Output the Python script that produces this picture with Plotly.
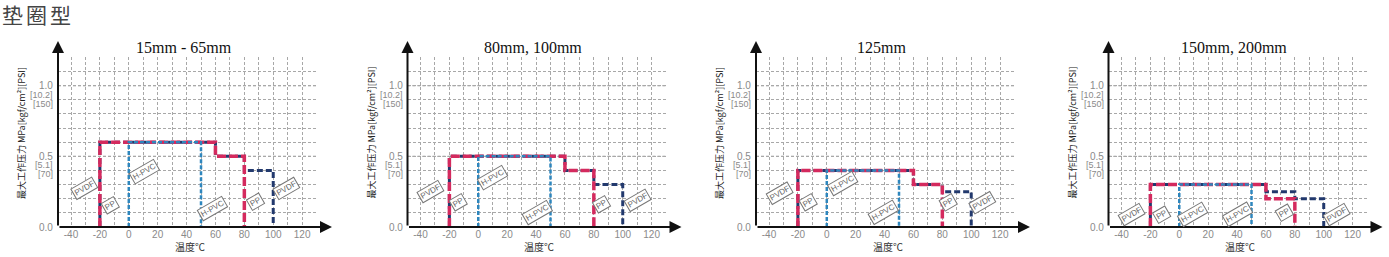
import plotly.graph_objects as go

W, H = 1389, 257

# ---------------- data ----------------
panel_titles = ["15mm - 65mm", "80mm, 100mm", "125mm", "150mm, 200mm"]

pvdf_x = [-20, -20, 60, 60, 80, 80, 100, 100]
pvdf_y = [
    [0, 0.6, 0.6, 0.5, 0.5, 0.4, 0.4, 0],
    [0, 0.5, 0.5, 0.4, 0.4, 0.3, 0.3, 0],
    [0, 0.4, 0.4, 0.3, 0.3, 0.25, 0.25, 0],
    [0, 0.3, 0.3, 0.25, 0.25, 0.2, 0.2, 0],
]
pp_x = [-20, -20, 60, 60, 80, 80]
pp_y = [
    [0, 0.6, 0.6, 0.5, 0.5, 0],
    [0, 0.5, 0.5, 0.4, 0.4, 0],
    [0, 0.4, 0.4, 0.3, 0.3, 0],
    [0, 0.3, 0.3, 0.2, 0.2, 0],
]
hpvc_x = [0, 0, 50, 50]
hpvc_y = [
    [0, 0.6, 0.6, 0],
    [0, 0.5, 0.5, 0],
    [0, 0.4, 0.4, 0],
    [0, 0.3, 0.3, 0],
]

x_grid = list(range(-40, 131, 10))
x_tick_labels = ["-40", "", "-20", "", "0", "", "20", "", "40", "", "60", "", "80", "", "100", "", "120", ""]
y_grid = [round(0.1 * i, 1) for i in range(0, 13)]
y_tick_vals = [0.0, 0.5, 1.0]
y_tick_main = ["0.0", "0.5", "1.0"]
y_tick_kgf = ["", "[5.1]", "[10.2]"]
y_tick_psi = ["", "[70]", "[150]"]

material_labels = ["PVDF", "PP", "H-PVC", "H-PVC", "PP", "PVDF"]

main_title = "垫圈型"
y_title = "最大工作压力 MPa[kgf/cm²][PSI]"
x_title = "温度℃"

# ---------------- layout helpers (positions only) ----------------
panel_left_px = [58, 407.5, 756, 1108.5]
panel_w_px = 259
plot_top_px, plot_bot_px = 57, 227
label_pos = [
    [(-31, 0.27), (-13, 0.15), (11, 0.39), (58, 0.13), (88, 0.18), (109, 0.27)],
    [(-33, 0.25), (-14, 0.17), (10, 0.35), (41, 0.10), (85, 0.16), (110, 0.19)],
    [(-33, 0.24), (-13, 0.17), (11, 0.31), (39, 0.10), (84, 0.17), (108, 0.17)],
    [(-33, 0.09), (-12, 0.09), (9, 0.09), (40, 0.09), (73, 0.10), (109, 0.09)],
]

C_PP = "#d42a5e"
C_PVDF = "#22396d"
C_HPVC = "#2e86bd"

def px2x(px):
    return px / W

def px2y(py):
    return (H - py) / H

fig = go.Figure()
annotations = []
shapes = []

ydom = [px2y(plot_bot_px), px2y(plot_top_px)]

for i in range(4):
    n = "" if i == 0 else str(i + 1)
    xa, ya = "x" + n, "y" + n
    left = panel_left_px[i]
    right = left + panel_w_px
    xdom = [px2x(left), px2x(right)]

    grid_common = dict(
        showgrid=True, gridcolor="#a8a8a8", gridwidth=1, griddash="3px,2px",
        zeroline=False, ticks="", fixedrange=True,
    )
    fig.update_layout(**{
        "xaxis" + n: dict(
            domain=xdom, range=[-49, 130.3], anchor=ya,
            tickmode="array", tickvals=x_grid, ticktext=x_tick_labels,
            tickfont=dict(family="Liberation Sans", size=10, color="#8a8a8a"),
            showline=False, **grid_common,
        ),
        "yaxis" + n: dict(
            domain=ydom, range=[0, 1.203], anchor=xa,
            tickmode="array", tickvals=y_grid, showticklabels=False,
            showline=False, **grid_common,
        ),
    })

    # darker reference lines
    for v in y_tick_vals[1:]:
        shapes.append(dict(type="line", xref=xa + " domain", yref=ya, x0=0, x1=1, y0=v, y1=v,
                           line=dict(color="#666666", width=1, dash="3px,2px"), layer="below"))

    # series
    fig.add_trace(go.Scatter(x=pvdf_x, y=pvdf_y[i], xaxis=xa, yaxis=ya, mode="lines",
                             line=dict(color=C_PVDF, width=3, dash="6px,3px"),
                             showlegend=False, hoverinfo="skip", cliponaxis=False))
    fig.add_trace(go.Scatter(x=pp_x, y=pp_y[i], xaxis=xa, yaxis=ya, mode="lines",
                             line=dict(color=C_PP, width=3.5, dash="9px,3px"),
                             showlegend=False, hoverinfo="skip", cliponaxis=False))
    fig.add_trace(go.Scatter(x=hpvc_x, y=hpvc_y[i], xaxis=xa, yaxis=ya, mode="lines",
                             line=dict(color=C_HPVC, width=2.5, dash="4px,2px"),
                             showlegend=False, hoverinfo="skip", cliponaxis=False))

    # axis arrows
    annotations.append(dict(xref="paper", yref="paper", x=px2x(right + 15), y=px2y(plot_bot_px),
                            ax=-(right + 15 - left), ay=0, text="", showarrow=True,
                            arrowhead=2, arrowsize=1.2, arrowwidth=2, arrowcolor="#111"))
    annotations.append(dict(xref="paper", yref="paper", x=px2x(left), y=px2y(41),
                            ax=0, ay=(plot_bot_px - 41), text="", showarrow=True,
                            arrowhead=2, arrowsize=1.2, arrowwidth=2, arrowcolor="#111"))

    # y tick labels
    for v, a, b, c in zip(y_tick_vals, y_tick_main, y_tick_kgf, y_tick_psi):
        annotations.append(dict(xref="paper", yref=ya, x=px2x(left - 3), y=v, xanchor="right",
                                yanchor="middle", text=a, showarrow=False,
                                font=dict(family="Liberation Sans", size=10, color="#8a8a8a")))
        if b:
            annotations.append(dict(xref="paper", yref=ya, x=px2x(left - 3), y=v, yshift=-9,
                                    xanchor="right", yanchor="middle", text=b, showarrow=False,
                                    font=dict(family="Liberation Sans", size=9, color="#8a8a8a")))
            annotations.append(dict(xref="paper", yref=ya, x=px2x(left - 3), y=v, yshift=-18,
                                    xanchor="right", yanchor="middle", text=c, showarrow=False,
                                    font=dict(family="Liberation Sans", size=9, color="#8a8a8a")))

    # panel title
    annotations.append(dict(xref="paper", yref="paper", x=px2x(left + panel_w_px / 2 - 4), y=px2y(47),
                            xanchor="center", yanchor="middle", text=panel_titles[i], showarrow=False,
                            font=dict(family="Liberation Serif", size=16, color="#111")))
    # axis titles
    annotations.append(dict(xref="paper", yref="paper", x=px2x(left + panel_w_px / 2 + 2), y=px2y(246),
                            xanchor="center", yanchor="middle", text=x_title, showarrow=False,
                            font=dict(family="Noto Sans CJK SC", size=10, color="#333")))
    annotations.append(dict(xref="paper", yref="paper", x=px2x(left - 36), y=px2y(133),
                            xanchor="center", yanchor="middle", text=y_title, showarrow=False,
                            textangle=-90,
                            font=dict(family="Noto Sans CJK SC", size=9, color="#222")))

    # material labels
    for (lx, ly), t in zip(label_pos[i], material_labels):
        annotations.append(dict(xref=xa, yref=ya, x=lx, y=ly, text=t, showarrow=False,
                                textangle=-30, bordercolor="#777", borderwidth=1, borderpad=1,
                                bgcolor="white",
                                font=dict(family="Liberation Sans", size=8, color="#666")))

annotations.append(dict(xref="paper", yref="paper", x=0.0, y=px2y(14), xanchor="left", yanchor="middle",
                        text='<span style="letter-spacing:3px">' + main_title + '</span>', showarrow=False,
                        font=dict(family="Noto Sans CJK SC", size=21, color="#444")))

fig.update_layout(
    width=W, height=H, margin=dict(l=0, r=0, t=0, b=0),
    paper_bgcolor="white", plot_bgcolor="white",
    annotations=annotations, shapes=shapes, showlegend=False,
)

fig.write_html("out.html", config={"displayModeBar": False})
